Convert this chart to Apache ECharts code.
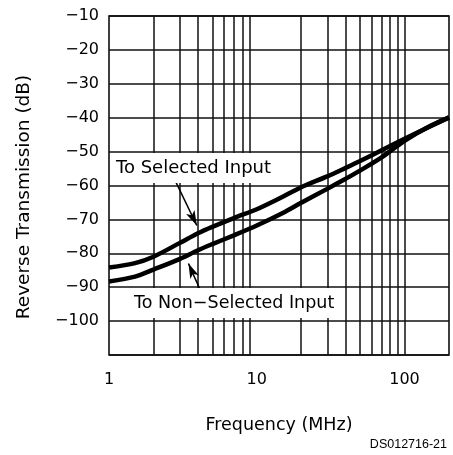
<!DOCTYPE html>
<html>
<head>
<meta charset="utf-8">
<script src="https://cdn.jsdelivr.net/npm/echarts@6/dist/echarts.min.js"></script>
<style>
html,body{margin:0;padding:0;background:#fff;}
#c{width:453px;height:455px;}
</style>
</head>
<body>
<div id="c"></div>
<script>
// ---- data ----
const freqMHz = [1, 1.5, 2, 3, 4, 5, 7, 10, 15, 20, 30, 40, 50, 70, 100, 150, 200];
const selectedInput = [-84.2, -82.9, -81.0, -77.0, -74.1, -72.2, -69.6, -67.0, -63.3, -60.5, -57.3, -54.8, -52.8, -49.6, -46.2, -42.5, -39.9];
const nonSelectedInput = [-88.3, -86.9, -84.8, -81.7, -79.1, -77.3, -74.7, -71.8, -68.1, -65.1, -61.0, -58.0, -55.6, -51.7, -46.8, -42.4, -40.0];
const xTickLabels = [1, 10, 100];
const yTickLabels = [-10, -20, -30, -40, -50, -60, -70, -80, -90, -100];
const minorGridFreqs = [2, 3, 4, 5, 6, 7, 8, 9, 20, 30, 40, 50, 60, 70, 80, 90, 100];
const arrowSelected = [[2.8, -58.5], [3.93, -71.8]];
const arrowNonSelected = [[4.36, -93.0], [3.45, -83.0]];

const font = 'DejaVu Sans';
const chart = echarts.init(document.getElementById('c'), null, {renderer: 'canvas'});

function pairs(xs, ys) { return xs.map((x, i) => [x, ys[i]]); }

const gridLine = {color: '#111', width: 1.5, type: 'solid'};

chart.setOption({
  animation: false,
  backgroundColor: '#fff',
  grid: {left: 109, top: 16, right: 4, bottom: 100, show: true, borderColor: '#000', borderWidth: 1.5, containLabel: false},
  xAxis: {
    type: 'log', logBase: 10, min: 1, max: 200,
    axisLine: {show: false}, axisTick: {show: false},
    splitLine: {show: false},
    axisLabel: {
      color: '#000', fontFamily: font, fontSize: 16, margin: 17,
      showMaxLabel: false,
      formatter: v => xTickLabels.some(t => Math.abs(t - v) < 1e-6 * t) ? String(Math.round(v)) : ''
    },
    name: 'Frequency (MHz)', nameLocation: 'middle', nameGap: 61,
    nameTextStyle: {color: '#000', fontFamily: font, fontSize: 17.5}
  },
  yAxis: {
    type: 'value', min: -110, max: -10, interval: 10,
    axisLine: {show: false}, axisTick: {show: false},
    splitLine: {show: true, lineStyle: gridLine},
    axisLabel: {
      color: '#000', fontFamily: font, fontSize: 16, margin: 10,
      formatter: v => yTickLabels.indexOf(v) >= 0 ? String(v).replace('-', '\u2212') : ''
    }
  },
  series: [
    {
      name: 'To Selected Input', type: 'line', data: pairs(freqMHz, selectedInput),
      smooth: 0.3, showSymbol: false, symbol: 'none', z: 5,
      lineStyle: {color: '#000', width: 4.5},
      markLine: {
        silent: true, animation: false, symbol: ['none', 'none'], z: 1,
        label: {show: false},
        lineStyle: gridLine,
        data: minorGridFreqs.map(f => ({xAxis: f}))
      }
    },
    {
      name: 'To Non-Selected Input', type: 'line', data: pairs(freqMHz, nonSelectedInput),
      smooth: 0.3, showSymbol: false, symbol: 'none', z: 5,
      lineStyle: {color: '#000', width: 4.5},
      markLine: {
        silent: true, animation: false, symbol: ['none', 'arrow'], symbolSize: [7, 15],
        label: {show: false},
        lineStyle: {color: '#000', width: 1.5, type: 'solid'},
        data: [
          [{coord: arrowSelected[0]}, {coord: arrowSelected[1]}],
          [{coord: arrowNonSelected[0]}, {coord: arrowNonSelected[1]}]
        ]
      }
    }
  ],
  graphic: [
    {type: 'rect', z: 100, shape: {x: 110, y: 153, width: 166, height: 30}, style: {fill: '#fff'}},
    {type: 'text', z: 101, x: 116, y: 168, style: {text: 'To Selected Input', fill: '#000', font: '18px "DejaVu Sans"', textAlign: 'left', textVerticalAlign: 'middle'}},
    {type: 'rect', z: 100, shape: {x: 129, y: 288, width: 212, height: 30}, style: {fill: '#fff'}},
    {type: 'text', z: 101, x: 134, y: 303, style: {text: 'To Non\u2212Selected Input', fill: '#000', font: '17.5px "DejaVu Sans"', textAlign: 'left', textVerticalAlign: 'middle'}},
    {type: 'text', z: 101, x: 24, y: 197, rotation: Math.PI / 2, style: {text: 'Reverse Transmission (dB)', fill: '#000', font: '18.5px "DejaVu Sans"', textAlign: 'center', textVerticalAlign: 'middle'}},
    {type: 'text', z: 101, x: 447, y: 445, style: {text: 'DS012716-21', fill: '#000', font: '12.5px "Liberation Sans"', textAlign: 'right', textVerticalAlign: 'middle'}}
  ]
});
</script>
</body>
</html>
